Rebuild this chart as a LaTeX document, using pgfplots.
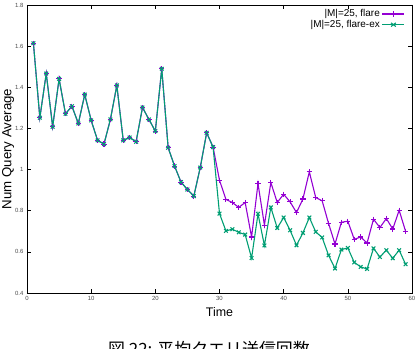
\documentclass[border=0pt]{standalone}
\usepackage{fontspec}
\setmainfont{Liberation Sans}
\newfontfamily\cjk{Noto Sans CJK JP}
\usepackage{pgfplots}
\pgfplotsset{compat=1.18}
\definecolor{cflare}{HTML}{9400D3}
\definecolor{cflareex}{HTML}{009E73}
\begin{document}
\begin{tikzpicture}[x=1bp,y=1bp]
\path[use as bounding box] (0,0) rectangle (418,349);
\begin{axis}[
  at={(27bp,56bp)}, anchor=south west,
  width=385bp, height=288bp, scale only axis,
  xmin=0, xmax=60, ymin=0.4, ymax=1.8,
  xtick={0,10,20,30,40,50,60},
  ytick={0.4,0.6,0.8,1,1.2,1.4,1.6,1.8},
  yticklabels={0.4,0.6,0.8,1,1.2,1.4,1.6,1.8},
  tick align=inside, tick pos=both,
  major tick length=4bp,
  axis line style={line width=0.9bp},
  every tick/.style={black, line width=0.6bp},
  /pgf/number format/assume math mode=true,
  ticklabel style={font=\fontsize{6}{7}\selectfont, text=black!70},
  xlabel={Time}, ylabel={Num Query Average},
  xlabel style={font=\fontsize{12.5}{14}\selectfont, at={(axis description cs:0.5,0)}, anchor=base, yshift=-23bp},
  ylabel style={font=\fontsize{13.3}{15}\selectfont, at={(axis description cs:0,0.5)}, anchor=base, yshift=15.7bp},
  legend cell align=right, legend plot pos=right,
  legend style={draw=none, fill=none, at={(rel axis cs:0.985,0.995)}, anchor=north east,
    font=\fontsize{10}{11}\selectfont, row sep=-2bp, inner sep=1bp},
  legend image post style={xscale=1.3},
]
\addplot[color=cflare, line width=1.1bp, mark=+, mark size=2.6bp, mark options={solid}] coordinates {
(1,1.614)(2,1.252)(3,1.467)(4,1.208)(5,1.441)(6,1.271)(7,1.308)(8,1.224)(9,1.365)(10,1.239)
(11,1.142)(12,1.124)(13,1.244)(14,1.409)(15,1.142)(16,1.156)(17,1.135)(18,1.302)(19,1.244)(20,1.187)
(21,1.490)(22,1.106)(23,1.017)(24,0.939)(25,0.903)(26,0.871)(27,1.010)(28,1.179)(29,1.109)
(30,0.948)(31,0.855)(32,0.840)(33,0.816)(34,0.840)(35,0.672)(36,0.932)(37,0.730)(38,0.937)(39,0.840)
(40,0.880)(41,0.843)(42,0.791)(43,0.857)(44,0.989)(45,0.864)(46,0.848)(47,0.738)(48,0.638)(49,0.744)
(50,0.749)(51,0.661)(52,0.672)(53,0.643)(54,0.759)(55,0.718)(56,0.762)(57,0.711)(58,0.802)(59,0.700)
};
\addlegendentry{|M|=25, flare}
\addplot[color=cflareex, line width=1.1bp, mark=x, mark size=2.6bp, mark options={solid}] coordinates {
(1,1.614)(2,1.252)(3,1.467)(4,1.208)(5,1.441)(6,1.271)(7,1.308)(8,1.224)(9,1.365)(10,1.239)
(11,1.142)(12,1.124)(13,1.244)(14,1.409)(15,1.142)(16,1.156)(17,1.135)(18,1.302)(19,1.244)(20,1.187)
(21,1.490)(22,1.106)(23,1.017)(24,0.939)(25,0.903)(26,0.871)(27,1.010)(28,1.179)(29,1.109)
(30,0.786)(31,0.702)(32,0.710)(33,0.695)(34,0.684)(35,0.570)(36,0.785)(37,0.631)(38,0.816)(39,0.716)
(40,0.767)(41,0.705)(42,0.632)(43,0.692)(44,0.767)(45,0.697)(46,0.670)(47,0.583)(48,0.519)(49,0.611)
(50,0.619)(51,0.549)(52,0.527)(53,0.517)(54,0.617)(55,0.575)(56,0.608)(57,0.569)(58,0.608)(59,0.540)
};
\addlegendentry{|M|=25, flare-ex}
\end{axis}
\node[anchor=north, font=\cjk\fontsize{17}{19}\selectfont] at (209,11) {図 22: 平均クエリ送信回数};
\end{tikzpicture}
\end{document}
